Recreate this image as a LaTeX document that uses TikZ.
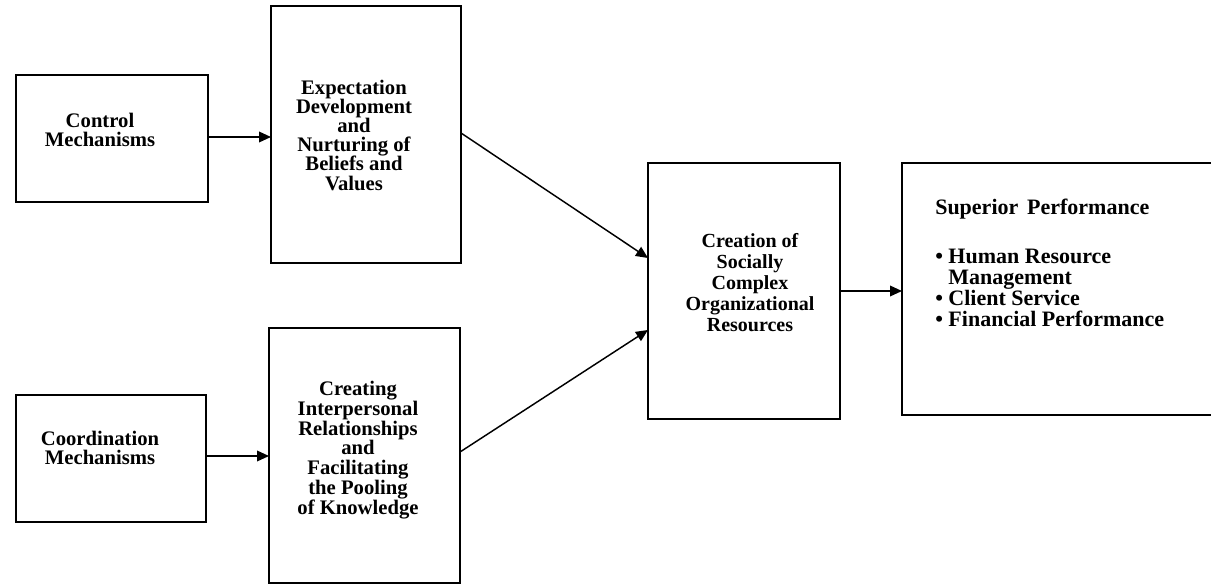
\documentclass[tikz,border=0pt]{standalone}
\usepackage{fontspec}
\setmainfont{Liberation Serif}
\usetikzlibrary{arrows.meta,calc}
\begin{document}
\begin{tikzpicture}[x=0.75pt,y=-0.75pt,
  box/.style={draw,line width=1.4pt,inner sep=0pt,outer sep=0pt},
  label/.style={inner sep=0pt,align=center,font=\bfseries\fontsize{15.5}{14.8}\selectfont},
  link/.style={line width=1.1pt,-{Triangle[length=9pt,width=8pt]}}]
\path[use as bounding box,clip] (0,0) rectangle (1211,585);

% boxes
\node[box,minimum width=144pt,minimum height=95.25pt] (ctl) at (112,138.5) {};
\node[box,minimum width=142.5pt,minimum height=192.75pt] (exp) at (366,134.5) {};
\node[box,minimum width=142.5pt,minimum height=95.25pt] (crd) at (111,458.5) {};
\node[box,minimum width=143.25pt,minimum height=191.25pt] (rel) at (364.5,455.5) {};
\node[box,minimum width=144pt,minimum height=192pt] (soc) at (744,291) {};
\node[box,minimum width=246pt,minimum height=189pt] (sup) at (1066,289) {};

% box texts
\node[label] (ctltxt) at (100,130) {Control\\Mechanisms};
\node[label,font=\bfseries\fontsize{15.5}{14.4}\selectfont] (exptxt) at (354,135)
  {Expectation\\Development\\and\\Nurturing of\\Beliefs and\\Values};
\node[label] (crdtxt) at (100,448) {Coordination\\Mechanisms};
\node[label] (reltxt) at (358,450)
  {Creating\\Interpersonal\\Relationships\\and\\Facilitating\\the Pooling\\of Knowledge};
\node[label,font=\bfseries\fontsize{15}{15.75}\selectfont] (soctxt) at (750,283)
  {Creation of\\Socially\\Complex\\Organizational\\Resources};
\node[label,align=left,anchor=north west,
      font=\bfseries\fontsize{16.5}{15.75}\selectfont] (suptxt) at (935,199)
  {\spaceskip=0.4em\relax Superior Performance\\[21pt]
   \textbullet\ Human Resource\\
   \phantom{\textbullet\ }Management\\
   \textbullet\ Client Service\\
   \textbullet\ Financial Performance};

% connectors
\draw[link] ($(ctl.east)+(0,-1.5)$) -- ($(exp.west |- ctl.east)+(0,-1.5)$);
\draw[link] ($(crd.east)+(0,-2.5)$) -- ($(rel.west |- crd.east)+(0,-2.5)$);
\draw[link] ($(exp.east)+(0,-1.5)$) -- ($(soc.west)+(0,-33)$);
\draw[link] ($(rel.east)+(0,-3.5)$) -- ($(soc.west)+(0,39)$);
\draw[link] (soc.east) -- (sup.west |- soc.east);
\end{tikzpicture}
\end{document}
